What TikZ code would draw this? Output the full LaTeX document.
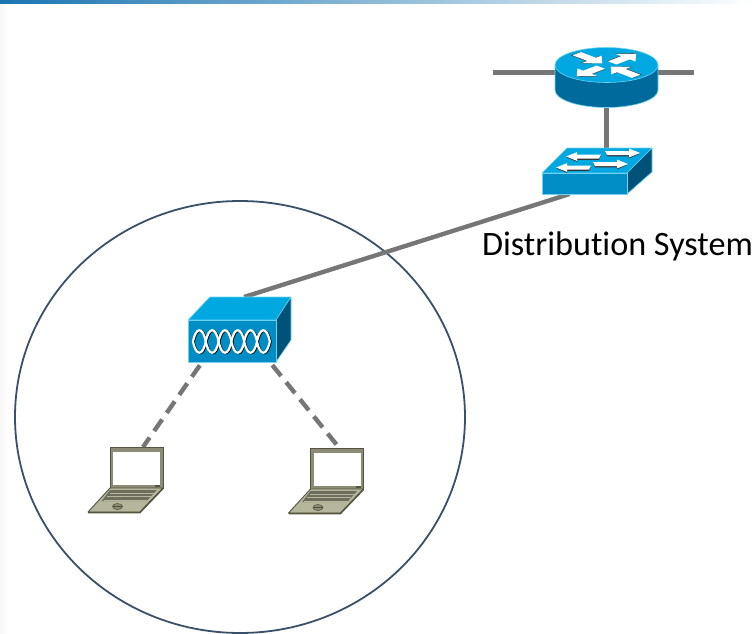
\documentclass[tikz,border=0pt]{standalone}
\usepackage{fontspec}
\setmainfont{Carlito}[RawFeature={-liga;-clig}]
\usetikzlibrary{shapes.geometric,positioning}
\definecolor{skytop}{RGB}{0,168,226}
\definecolor{skyfront}{RGB}{0,140,196}
\definecolor{skyside}{RGB}{0,82,120}
\definecolor{skybody}{RGB}{0,106,156}
\definecolor{skyedge}{RGB}{110,210,240}
\definecolor{linkgray}{RGB}{118,118,118}
\definecolor{bssblue}{RGB}{58,80,104}
\definecolor{lapbody}{RGB}{182,182,156}
\definecolor{lapdark}{RGB}{84,84,64}
\definecolor{lapframe}{RGB}{140,140,118}
\definecolor{barleft}{RGB}{27,117,178}
\definecolor{barmid}{RGB}{125,175,216}

\begin{document}
\begin{tikzpicture}[x=1pt,y=-1pt]
    \useasboundingbox (0,0) rectangle (755,634);
    \tikzstyle{iconbox}=[rectangle, inner sep=0, outer sep=0]
    \tikzstyle{link}=[line width=4.4pt, draw=linkgray]
    \tikzstyle{wireless}=[link, dash pattern=on 14pt off 8pt]
    \tikzstyle{skyline}=[draw=skyedge, line width=0.6pt, line join=round]
    \tikzset{
      routericon/.pic={
        \path[skyline, fill=skybody] (-51.5,0) -- (-51.5,25) arc[start angle=180, end angle=0, x radius=51.5, y radius=17.5] -- (51.5,0) -- cycle;
        \path[skyline, fill=skytop] (0,0) ellipse [x radius=51.5, y radius=17.5];
        \begin{scope}[yscale=0.38]
          \foreach \a in {45,225} {
            \fill[black!75, rotate=\a, shift={(0.8,-1.2)}] (42,0) -- (27,-14) -- (27,-6) -- (8,-6) -- (8,6) -- (27,6) -- (27,14) -- cycle;
            \fill[white, rotate=\a] (42,0) -- (27,-14) -- (27,-6) -- (8,-6) -- (8,6) -- (27,6) -- (27,14) -- cycle;
          }
          \foreach \a in {135,315} {
            \fill[black!75, rotate=\a, shift={(0.8,-1.2)}] (6,0) -- (21,-14) -- (21,-6) -- (42,-6) -- (42,6) -- (21,6) -- (21,14) -- cycle;
            \fill[white, rotate=\a] (6,0) -- (21,-14) -- (21,-6) -- (42,-6) -- (42,6) -- (21,6) -- (21,14) -- cycle;
          }
        \end{scope}
      },
      switchicon/.pic={
        \path[skyline, fill=skytop] (0,25) -- (25,0) -- (110,0) -- (85,25) -- cycle;
        \path[skyline, fill=skyside] (85,25) -- (110,0) -- (110,24) -- (85,46) -- cycle;
        \path[skyline, fill=skyfront] (0,25) rectangle (85,46);
        \foreach \x/\y/\d in {24/8.5/1, 98/5/-1, 14/19.5/1, 86/16/-1} {
          \begin{scope}[shift={(\x,\y)}, xscale=\d]
            \fill[black!80] (0.6,0.9) -- (11,-3.6) -- (11,-1) -- (35,-1) -- (33,3.3) -- (11,3.3) -- (11,5.4) -- cycle;
            \fill[white] (0,0) -- (11,-4.4) -- (11,-2) -- (35,-2) -- (33,2.2) -- (11,2.2) -- (11,4.4) -- cycle;
          \end{scope}
        }
      },
      apicon/.pic={
        \path[skyline, fill=skytop] (0,23) -- (22,0) -- (103,0) -- (88,23) -- cycle;
        \path[skyline, fill=skyside] (88,23) -- (103,0) -- (103,43) -- (88,65) -- cycle;
        \path[skyline, fill=skyfront] (0,23) rectangle (88,65);
        \foreach \i in {0,...,5} {
          \draw[black, line width=2.2pt, shift={(5.8+12.8*\i,45)}] (0,0) .. controls (3,-15) and (9.8,-15) .. (12.8,0) .. controls (9.8,15) and (3,15) .. cycle;
          \draw[white, line width=2.2pt, shift={(5+12.8*\i,44.5)}] (0,0) .. controls (3,-15) and (9.8,-15) .. (12.8,0) .. controls (9.8,15) and (3,15) .. cycle;
        }
      },
      laptopicon/.pic={
        \filldraw[draw=lapdark, fill=lapframe, line width=0.9pt] (22,0) rectangle (75,41);
        \fill[white] (25,5) rectangle (72,38);
        \fill[lapdark] (67,38) rectangle (72,40);
        \filldraw[draw=lapdark, fill=lapbody, line width=0.9pt, line join=round] (22,41) -- (75,41) -- (52,65) -- (0,65) -- cycle;
        \draw[lapdark, line width=1.5pt] (0,65.5) -- (52,65.5) -- (75,41.5);
        \fill[lapbody!60!black] (22,43) -- (68.7,43) -- (58.7,54) -- (13.7,54) -- cycle;
        \foreach \t in {0,1,2} {
          \draw[lapbody, line width=0.8pt] ({21.5-\t*2.9},{46.2+\t*3.6}) -- ({66-\t*3.4},{46.2+\t*3.6});
        }
        \filldraw[draw=lapdark, fill=lapframe, line width=0.6pt] (29.5,59.5) ellipse [x radius=5, y radius=3];
        \draw[lapdark, line width=0.5pt] (24.5,59.5) -- (34.5,59.5);
      }
    }
    % header strip
    \fill[left color=black!3, right color=white] (0,5) rectangle (8,634);
    \shade[left color=barleft, middle color=barmid, right color=white] (0,0) rectangle (755,4);
    \node[draw=bssblue, line width=1.8pt, ellipse, inner sep=0, minimum width=450, minimum height=432] (bss) at (240,417) {};
    \node[iconbox, minimum width=103, minimum height=60] (router) at (606.5,77.5) {};
    \node[iconbox, minimum width=110, minimum height=46] (switch) at (597,171) {};
    \node[iconbox, minimum width=103, minimum height=65] (ap) at (239.5,329.5) {};
    \node[iconbox, minimum width=75, minimum height=66] (laptopa) at (125.5,480) {};
    \node[iconbox, minimum width=75, minimum height=66] (laptopb) at (326,481) {};
    \node[font=\fontsize{34.2}{41}\selectfont] (dslabel) at (617.5,246) {Distribution System};
    \coordinate (wanleft) at (493,72.5);
    \coordinate (wanright) at (694,72.5);
    \draw[link] (wanleft) -- (wanleft -| router.west);
    \draw[link] (wanright) -- (wanright -| router.east);
    \draw[link] (router.south) -- (router.south |- switch.north);
    \draw[link] (switch.220.4) -- (ap.82);
    \draw[wireless, shorten <=4pt] (ap.221) -- (laptopa.62);
    \draw[wireless, shorten <=4pt] (ap.313) -- (laptopb.68.5);
    \pic at (router.north) [shift={(0,17.5)}] {routericon};
    \pic at (switch.north west) {switchicon};
    \pic at (ap.north west) {apicon};
    \pic at (laptopa.north west) {laptopicon};
    \pic at (laptopb.north west) {laptopicon};
\end{tikzpicture}
\end{document}
